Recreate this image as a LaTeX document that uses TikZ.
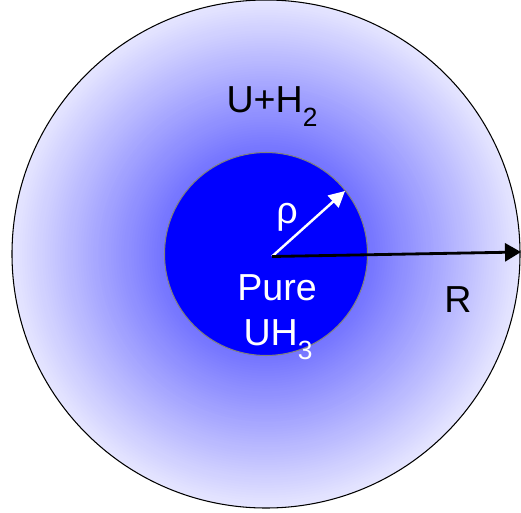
\documentclass[tikz,border=0pt]{standalone}
\usepackage{fontspec}
\setmainfont{Liberation Sans}
\usepackage{tikz}
\usetikzlibrary{arrows.meta}

\newcommand{\lowsub}[1]{\raisebox{-8pt}{\fontsize{15}{15}\selectfont #1}}

\tikzset{
  label text/.style={font=\fontsize{21.4}{24}\selectfont, inner sep=0pt, anchor=base},
}

\begin{document}
\begin{tikzpicture}
        \useasboundingbox (-5.32,-5.16) rectangle (5.10,5.08);
        \begin{scope}
            \clip (-5.32,-5.16) rectangle (5.10,5.08);
            % fading U+H2 shell
            \foreach \i in {0,...,60} {
                \pgfmathsetmacro\r{5.08-\i*(3.05/60)}
                \pgfmathsetmacro\p{10+\i*0.75}
                \fill[blue!\p!white] (0,0) circle (\r);
            }
            \draw[black, line width=0.6pt] (0,0) circle (5.08);
        \end{scope}
        \filldraw[fill=blue, draw=gray, line width=0.6pt] (0,0) circle (2.03);

        \coordinate (c) at (0.12,-0.05);
        \coordinate (rho end) at (1.58,1.26);
        \coordinate (R end) at (5.10,0.04);

        \draw[white, line width=1.4pt, -{Triangle[length=0.32cm,width=0.32cm]}] (c) -- (rho end);
        \draw[black, line width=1.6pt, -{Triangle[length=0.32cm,width=0.36cm]}] (c) -- (R end);

        \node[label text, white] (rho) at (0.42,0.62) {ρ};
        \node[label text, white] (pure) at (0.22,-0.92) {Pure};
        \node[label text, white] (uh) at (0.24,-1.82) {UH\lowsub{3}};
        \node[label text] (uh2) at (0.12,2.84) {U+H\lowsub{2}};
        \node[label text] (R) at (3.84,-1.16) {R};
\end{tikzpicture}
\end{document}
